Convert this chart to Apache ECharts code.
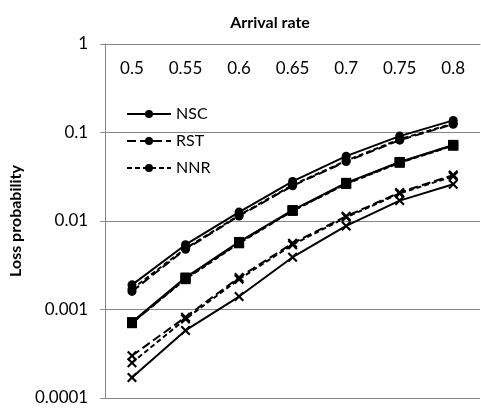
<!DOCTYPE html>
<html>
<head>
<meta charset="utf-8">
<script src="https://cdn.jsdelivr.net/npm/echarts@6/dist/echarts.min.js"></script>
<style>
  html, body { margin: 0; padding: 0; background: #fff; }
  #main { width: 481px; height: 409px; }
</style>
</head>
<body>
<div id="main"></div>
<script>
// arrival rate categories (top axis)
var rates = ['0.5', '0.55', '0.6', '0.65', '0.7', '0.75', '0.8'];
var yTicks = ['1', '0.1', '0.01', '0.001', '0.0001'];

// circle group
var nscA = [0.0019, 0.0054, 0.0126, 0.028, 0.054, 0.091, 0.137];
var rstA = [0.0016, 0.0048, 0.0114, 0.025, 0.047, 0.082, 0.124];
var nnrA = [0.0017, 0.0049, 0.0116, 0.0255, 0.048, 0.084, 0.126];
// square group
var nscB = [0.00072, 0.0023, 0.0058, 0.0133, 0.0270, 0.0465, 0.0725];
var rstB = [0.00070, 0.00225, 0.0057, 0.0131, 0.0265, 0.0460, 0.0715];
var nnrB = [0.00071, 0.0022, 0.0056, 0.0130, 0.0262, 0.0455, 0.0710];
// cross group
var nscC = [0.00017, 0.00058, 0.0014, 0.0039, 0.0088, 0.0170, 0.026];
var rstC = [0.00030, 0.00082, 0.0023, 0.0056, 0.0113, 0.021, 0.033];
var nnrC = [0.00025, 0.00078, 0.0022, 0.0054, 0.0110, 0.0205, 0.032];

var FONT = 'Lato';
var cross = 'path://M0,1.5 L1.5,0 L5,3.5 L8.5,0 L10,1.5 L6.5,5 L10,8.5 L8.5,10 L5,6.5 L1.5,10 L0,8.5 L3.5,5 Z';

// 线型：NSC 实线, RST 长虚线, NNR 短虚线
function mk(name, data, symbol, size, dash) {
    return {
        name: name,
        type: 'line',
        data: data,
        symbol: symbol,
        symbolSize: size,
        showSymbol: true,
        lineStyle: { color: '#000', width: 2, type: dash },
        itemStyle: { color: '#000' },
        animation: false
    };
}

var chart = echarts.init(document.getElementById('main'));
var option = {
    backgroundColor: '#fff',
    title: {
        text: 'Arrival rate',
        left: 265,
        textAlign: 'center',
        top: 10,
        textStyle: { fontFamily: FONT, fontSize: 16, fontWeight: 'bold', color: '#000' }
    },
    legend: {
        data: ['NSC', 'RST', 'NNR'],
        orient: 'vertical',
        left: 121,
        top: 101,
        itemWidth: 44,
        itemHeight: 10,
        itemGap: 11,
        textStyle: { fontFamily: FONT, fontSize: 16, color: '#000' }
    },
    grid: { left: 86, right: 1, top: 44, bottom: 11, containLabel: false },
    xAxis: {
        type: 'category',
        position: 'top',
        data: rates,
        boundaryGap: true,
        axisLine: { lineStyle: { color: '#868686', width: 1 } },
        axisTick: { inside: true, length: 5, lineStyle: { color: '#868686' } },
        axisLabel: { inside: true, margin: 16, fontFamily: FONT, fontSize: 17, color: '#000' },
        splitLine: { show: false }
    },
    yAxis: {
        type: 'log',
        logBase: 10,
        min: 0.0001,
        max: 1,
        name: 'Loss probability',
        nameLocation: 'middle',
        nameGap: 61,
        nameTextStyle: { fontFamily: FONT, fontSize: 16, fontWeight: 'bold', color: '#000' },
        axisLine: { show: true, lineStyle: { color: '#868686', width: 1 } },
        axisTick: { show: true, length: 5, lineStyle: { color: '#868686' } },
        axisLabel: {
            margin: 17,
            fontFamily: FONT,
            fontSize: 17,
            color: '#000',
            formatter: function (v) {
                var k = Math.round(-Math.log10(v));
                return yTicks[k] !== undefined ? yTicks[k] : '';
            }
        },
        splitLine: { show: true, lineStyle: { color: '#868686', width: 1 } }
    },
    series: [
        mk('NSC', nscA, 'circle', 9, 'solid'),
        mk('RST', rstA, 'circle', 9, [9, 4]),
        mk('NNR', nnrA, 'circle', 9, [5, 3]),
        mk('NSC', nscB, 'rect', 10, 'solid'),
        mk('RST', rstB, 'rect', 10, [9, 4]),
        mk('NNR', nnrB, 'rect', 10, [5, 3]),
        mk('NSC', nscC, cross, 10, 'solid'),
        mk('RST', rstC, cross, 10, [9, 4]),
        mk('NNR', nnrC, cross, 10, [5, 3])
    ]
};
chart.setOption(option);
window.onresize = chart.resize;
</script>
</body>
</html>
